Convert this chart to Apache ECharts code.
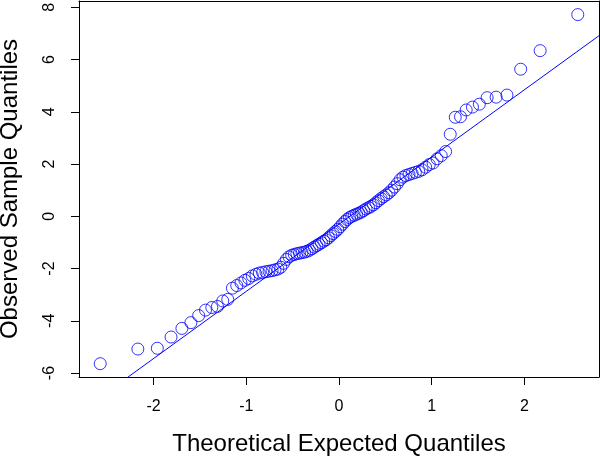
<!DOCTYPE html>
<html lang="en">
<head>
    <meta charset="UTF-8">
    <title>Q-Q plot</title>
    <style>
        html, body { margin: 0; padding: 0; background: #fff; }
        #main { width: 600px; height: 456px; }
    </style>
</head>
<body>
<div id="main"></div>
<script src="https://cdn.jsdelivr.net/npm/echarts@6/dist/echarts.min.js"></script>
<script>
    var theoQ = [-2.576, -2.170, -1.960, -1.812, -1.695, -1.598, -1.514, -1.440, -1.372, -1.311,
        -1.254, -1.200, -1.150, -1.103, -1.058, -1.015, -0.974, -0.935, -0.896, -0.860,
        -0.824, -0.789, -0.755, -0.722, -0.690, -0.659, -0.628, -0.598, -0.568, -0.539,
        -0.510, -0.482, -0.454, -0.426, -0.399, -0.372, -0.345, -0.319, -0.292, -0.266,
        -0.240, -0.215, -0.189, -0.164, -0.138, -0.113, -0.088, -0.063, -0.038, -0.013,
        0.013, 0.038, 0.063, 0.088, 0.113, 0.138, 0.164, 0.189, 0.215, 0.240,
        0.266, 0.292, 0.319, 0.345, 0.372, 0.399, 0.426, 0.454, 0.482, 0.510,
        0.539, 0.568, 0.598, 0.628, 0.659, 0.690, 0.722, 0.755, 0.789, 0.824,
        0.860, 0.896, 0.935, 0.974, 1.015, 1.058, 1.103, 1.150, 1.200, 1.254,
        1.311, 1.372, 1.440, 1.514, 1.598, 1.695, 1.812, 1.960, 2.170, 2.576];
    var sampleQ = [-5.64, -5.08, -5.05, -4.62, -4.29, -4.07, -3.80, -3.59, -3.49, -3.45,
        -3.24, -3.18, -2.75, -2.65, -2.55, -2.45, -2.38, -2.28, -2.22, -2.17,
        -2.15, -2.12, -2.10, -2.08, -2.05, -2.02, -1.95, -1.80, -1.65, -1.55,
        -1.49, -1.46, -1.43, -1.41, -1.39, -1.37, -1.34, -1.30, -1.24, -1.18,
        -1.12, -1.07, -1.01, -0.95, -0.90, -0.82, -0.74, -0.66, -0.58, -0.50,
        -0.40, -0.30, -0.20, -0.12, -0.05, 0.00, 0.04, 0.08, 0.12, 0.16,
        0.22, 0.28, 0.33, 0.38, 0.44, 0.52, 0.60, 0.68, 0.75, 0.82,
        0.90, 1.00, 1.12, 1.25, 1.40, 1.50, 1.56, 1.60, 1.64, 1.68,
        1.72, 1.78, 1.88, 1.98, 2.04, 2.20, 2.32, 2.48, 3.14, 3.79,
        3.81, 4.07, 4.18, 4.29, 4.54, 4.56, 4.64, 5.63, 6.34, 7.72];
    // reference line (qqline) : intercept and slope
    var lineIntercept = -0.30, lineSlope = 2.571;
    var xTicks = [-2, -1, 0, 1, 2];
    var yTicks = [-6, -4, -2, 0, 2, 4, 6, 8];
    var xMin = -2.805, xMax = 2.805, yMin = -6.15, yMax = 8.24;

    var points = [];
    for (var i = 0; i < theoQ.length; i++) {
        points.push([theoQ[i], sampleQ[i]]);
    }
    var lineData = [[xMin, lineIntercept + lineSlope * xMin], [xMax, lineIntercept + lineSlope * xMax]];

    var fontFam = '"Liberation Sans", Arial, Helvetica, sans-serif';
    var boxLine = { show: true, onZero: false, lineStyle: { color: '#000', width: 1 } };
    var myChart = echarts.init(document.getElementById('main'));
    var option = {
        animation: false,
        backgroundColor: '#fff',
        grid: {
            left: 79, right: 1, top: 1, bottom: 79,
            containLabel: false,
            outerBoundsMode: 'none'
        },
        xAxis: [{
            type: 'value',
            min: xMin, max: xMax,
            name: 'Theoretical Expected Quantiles',
            nameLocation: 'middle',
            nameGap: 55,
            nameMoveOverlap: false,
            nameTextStyle: { fontFamily: fontFam, fontSize: 24, color: '#000' },
            axisLine: boxLine,
            splitLine: { show: false },
            axisTick: { show: true, inside: false, length: 8, customValues: xTicks,
                lineStyle: { color: '#000', width: 1 } },
            axisLabel: { customValues: xTicks, margin: 22, fontFamily: fontFam, fontSize: 16, color: '#000' }
        }, {
            // top edge of the box
            type: 'value', position: 'top',
            min: xMin, max: xMax,
            axisLine: boxLine,
            axisTick: { show: false }, axisLabel: { show: false }, splitLine: { show: false }
        }],
        yAxis: [{
            type: 'value',
            min: yMin, max: yMax,
            name: 'Observed Sample Quantiles',
            nameLocation: 'middle',
            nameGap: 57,
            nameRotate: 90,
            nameMoveOverlap: false,
            nameTextStyle: { fontFamily: fontFam, fontSize: 24, color: '#000' },
            axisLine: boxLine,
            splitLine: { show: false },
            axisTick: { show: true, inside: false, length: 8, customValues: yTicks,
                lineStyle: { color: '#000', width: 1 } },
            axisLabel: { customValues: yTicks, rotate: 90, margin: 21, fontFamily: fontFam, fontSize: 16, color: '#000' }
        }, {
            // right edge of the box
            type: 'value', position: 'right',
            min: yMin, max: yMax,
            axisLine: boxLine,
            axisTick: { show: false }, axisLabel: { show: false }, splitLine: { show: false }
        }],
        series: [{
            type: 'scatter',
            data: points,
            symbol: 'circle',
            symbolSize: 12,
            itemStyle: { color: 'rgba(0,0,0,0)', borderColor: '#0000ff', borderWidth: 1 },
            z: 3
        }, {
            type: 'line',
            data: lineData,
            showSymbol: false,
            symbol: 'none',
            clip: true,
            lineStyle: { color: '#0000ff', width: 1 },
            z: 2
        }]
    };
    myChart.setOption(option);
</script>
</body>
</html>
